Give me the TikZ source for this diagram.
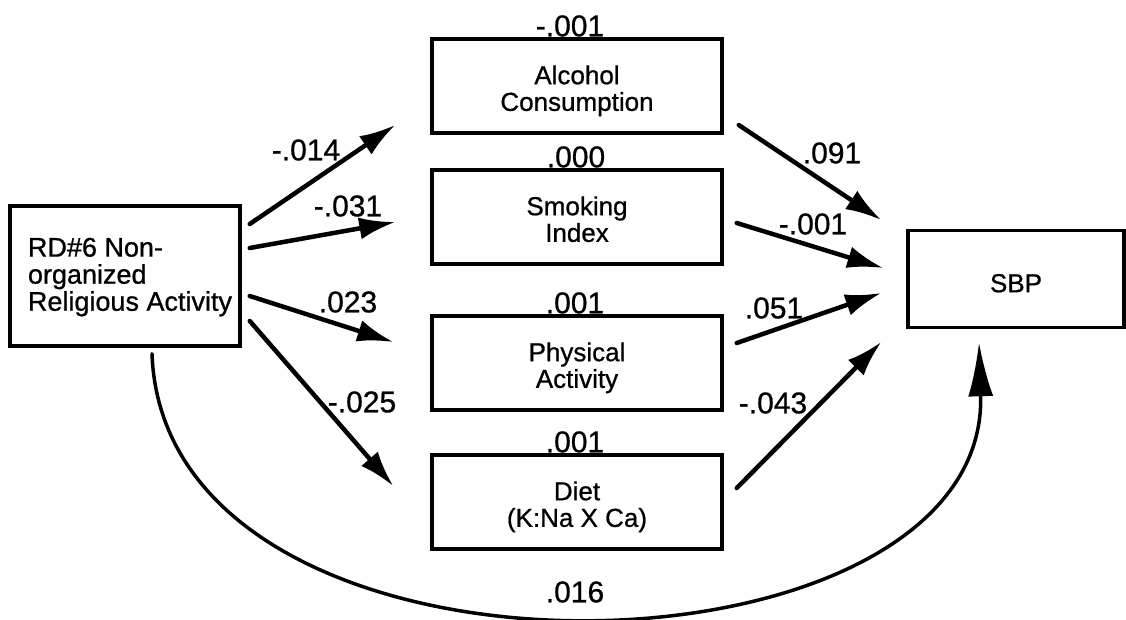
\documentclass[tikz,border=0pt]{standalone}
\usepackage{fontspec}
\setmainfont{Liberation Sans}[FakeBold=0.8]
\usetikzlibrary{arrows.meta}
% box label set a little below the box centre, keeping the node's own size
\newcommand\boxtext[2][6pt]{\raisebox{-#1}[\height][\depth]{\begin{tabular}{@{}c@{}}#2\end{tabular}}}
\begin{document}
\begin{tikzpicture}[x=1pt,y=-1pt,
  vbox/.style={draw, line width=3.5pt, inner sep=0pt,
               font=\fontsize{26}{26}\selectfont},
  midbox/.style={vbox, minimum width=290pt, minimum height=94pt},
  link/.style={line width=4.5pt, line cap=round,
               -{Latex[length=36pt,width=22pt]}},
  direct/.style={line width=3.5pt, line cap=round,
               -{Latex[length=54pt,width=25pt]}},
  coef/.style={font=\fontsize{30}{30}\selectfont, inner sep=0pt},
  errv/.style={coef, anchor=base}]
\useasboundingbox (0,0) rectangle (1126,619);

% predictor, mediators and outcome
\node[vbox, minimum width=230pt, minimum height=140pt,
      font=\fontsize{27}{25}\selectfont] (rd) at (125,276)
      {\hspace*{10pt}\raisebox{-2pt}[\height][\depth]{\begin{tabular}{@{}l@{}}RD\#6 Non-\\organized\\Religious Activity\end{tabular}}};
\node[midbox] (alc)  at (577,86)  {\boxtext{Alcohol\\Consumption}};
\node[midbox] (smk)  at (577,217) {\boxtext{Smoking\\Index}};
\node[midbox] (phy)  at (577,363) {\boxtext{Physical\\Activity}};
\node[midbox] (diet) at (577,502) {\boxtext{Diet\\(K:Na X Ca)}};
\node[vbox, minimum width=216pt, minimum height=97pt] (sbp) at (1016,279) {\boxtext[8pt]{SBP}};

% values printed on top of the mediator boxes
\node[errv] (ealc)  at ([xshift=-7pt,yshift=1pt]alc.north)  {-.001};
\node[errv] (esmk)  at ([xshift=-1pt,yshift=1pt]smk.north)  {.000};
\node[errv] (ephy)  at ([xshift=-2pt,yshift=1pt]phy.north)  {.001};
\node[errv] (ediet) at ([xshift=-2pt,yshift=1pt]diet.north) {.001};

% predictor -> mediators
\draw[link] ([xshift=8pt,yshift=52pt]rd.east) -- ([xshift=-35pt,yshift=-39pt]alc.west);
\draw[link] ([xshift=8pt,yshift=28pt]rd.east) -- ([xshift=-35pt,yshift=-5pt]smk.west);
\draw[link] ([xshift=8pt,yshift=-20pt]rd.east) -- ([xshift=-37pt,yshift=21pt]phy.west);
\draw[link] ([xshift=8pt,yshift=-45pt]rd.east) -- ([xshift=-37pt,yshift=16pt]diet.west);

% mediators -> SBP
\draw[link] ([xshift=15pt,yshift=-39pt]alc.east) -- ([xshift=-25pt,yshift=59pt]sbp.west);
\draw[link] ([xshift=13pt,yshift=-6pt]smk.east) -- ([xshift=-23pt,yshift=11pt]sbp.west);
\draw[link] ([xshift=13pt,yshift=20pt]phy.east) -- ([xshift=-25pt,yshift=-14pt]sbp.west);
\draw[link] ([xshift=13pt,yshift=14pt]diet.east) -- ([xshift=-25pt,yshift=-63pt]sbp.west);

% direct path
\draw[direct] ([xshift=27pt,yshift=-6pt]rd.south)
  .. controls (165,714) and (990,692) .. ([xshift=-37pt,yshift=-13pt]sbp.south);

% path coefficients
\node[coef] (c1) at (306,150) {-.014};
\node[coef] (c2) at (348,206) {-.031};
\node[coef] (c3) at (348,302) {.023};
\node[coef] (c4) at (362,402) {-.025};
\node[coef] (c5) at (832,153) {.091};
\node[coef] (c6) at (813,224) {-.001};
\node[coef] (c7) at (774,308) {.051};
\node[coef] (c8) at (773,403) {-.043};
\node[coef] (c9) at (575,592) {.016};
\end{tikzpicture}
\end{document}
